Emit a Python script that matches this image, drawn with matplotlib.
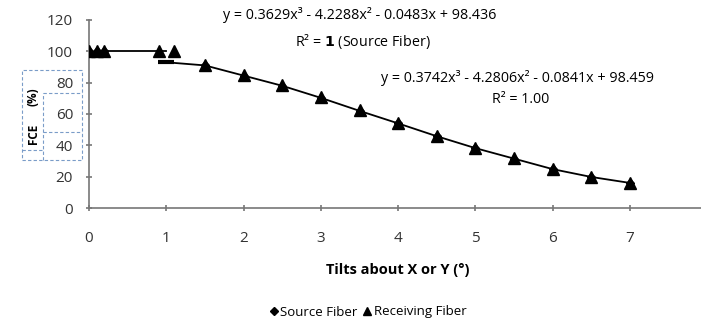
import numpy as np
import matplotlib.pyplot as plt
from matplotlib.patches import Rectangle
from matplotlib.lines import Line2D

plt.rcParams['font.family'] = ['Open Sans', 'DejaVu Sans']

# Tilt angles (deg) and fibre coupling efficiency (%)
src_tilt = [0, 0.1, 0.2, 1.0, 1.5, 2, 2.5, 3, 3.5, 4, 4.5, 5, 5.5, 6, 6.5, 7]
src_fce = [100.5, 100.5, 100.5, 93.0, 91.0, 84.5, 78.0, 70.3, 62.0, 54.0, 45.8, 38.2, 31.5, 24.8, 19.8, 16.0]

rcv_tilt = [0, 0.1, 0.2, 0.9, 1.1, 1.5, 2, 2.5, 3, 3.5, 4, 4.5, 5, 5.5, 6, 6.5, 7]
rcv_fce = [100.5, 100.5, 100.5, 100.5, 100.0, 91.3, 84.9, 78.5, 70.8, 62.5, 54.2, 46.0, 38.5, 32.0, 25.0, 20.0, 16.2]

x_ticks = [0, 1, 2, 3, 4, 5, 6, 7, 8]
y_ticks = [0, 20, 40, 60, 80, 100, 120]

fig = plt.figure(figsize=(7.01, 3.22), dpi=100)
ax = fig.add_axes([0.127, 0.354, 0.882, 0.584])

ax.plot(src_tilt[3:], src_fce[3:], color='black', lw=1.3, zorder=2)
ax.plot(src_tilt[2:4], [src_fce[2], 100.5], color='black', lw=1.3, zorder=2)
src_pts = [i for i in range(len(src_tilt)) if i != 3]
ax.plot([src_tilt[i] for i in src_pts], [src_fce[i] for i in src_pts],
        ls='none', marker='D', ms=4, color='black', zorder=3)
ax.plot(src_tilt[3], src_fce[3], ls='none', marker='_', ms=11, mew=3, color='black', zorder=3)
ax.plot(rcv_tilt, rcv_fce, ls='none', marker='^', ms=8.5, color='black', zorder=4)

ax.set_xlim(0, 8)
ax.set_ylim(0, 120)
ax.set_xticks(x_ticks)
ax.set_yticks(y_ticks)
for s in ['top', 'right']:
    ax.spines[s].set_visible(False)
for s in ['left', 'bottom']:
    ax.spines[s].set_color('#777777')
    ax.spines[s].set_linewidth(1.2)
ax.tick_params(direction='inout', length=5, width=1.2, colors='#777777',
               labelcolor='#333333', labelsize=11)
ax.tick_params(axis='x', pad=14)
ax.tick_params(axis='y', pad=9)
ax.set_xlabel('Tilts about X or Y (°)', fontsize=10.5, fontweight='bold', labelpad=12)

# trend line equations
ax.text(3.5, 123.2, 'y = 0.3629x³ - 4.2288x² - 0.0483x + 98.436', fontsize=10.3,
        ha='center', va='center')
ax.text(3.54, 106, 'R² = $\\mathbf{1}$ (Source Fiber)', fontsize=10.3, ha='center', va='center')
ax.text(5.55, 83, 'y = 0.3742x³ - 4.2806x² - 0.0841x + 98.459', fontsize=10.3,
        ha='center', va='center')
ax.text(5.58, 69, 'R² = 1.00', fontsize=10.3, ha='center', va='center')

# y-axis title with dashed text boxes
fig.text(33 / 701, 1 - 97 / 322, '(%)', rotation=90, fontsize=8.5,
         fontweight='bold', ha='center', va='center')
fig.text(33 / 701, 1 - 134 / 322, 'FCE', rotation=90, fontsize=8.5,
         fontweight='bold', ha='center', va='center')
dash = dict(ls=(0, (3, 2)), lw=0.8, color='#7a9cc8', transform=fig.transFigure)
fig.patches.append(Rectangle((22 / 701, 1 - 160 / 322), 60 / 701, 90 / 322, fill=False,
                             ls=(0, (3, 2)), lw=0.8, ec='#7a9cc8', transform=fig.transFigure))
fig.lines.append(Line2D([43 / 701, 43 / 701], [1 - 160 / 322, 1 - 93 / 322], **dash))
fig.lines.append(Line2D([43 / 701, 82 / 701], [1 - 93 / 322, 1 - 93 / 322], **dash))
fig.lines.append(Line2D([43 / 701, 82 / 701], [1 - 132 / 322, 1 - 132 / 322], **dash))
fig.lines.append(Line2D([22 / 701, 43 / 701], [1 - 150 / 322, 1 - 150 / 322], **dash))

handles = [Line2D([], [], ls='none', marker='D', ms=4.5, color='black'),
           Line2D([], [], ls='none', marker='^', ms=6, color='black')]
fig.legend(handles, ['Source Fiber', 'Receiving Fiber'], loc='center',
           bbox_to_anchor=(368 / 701, 1 - 312 / 322), ncol=2, frameon=False,
           fontsize=9.5, handlelength=0.6, handletextpad=0.2, columnspacing=0.4)

fig.savefig('out.png', dpi=100)
